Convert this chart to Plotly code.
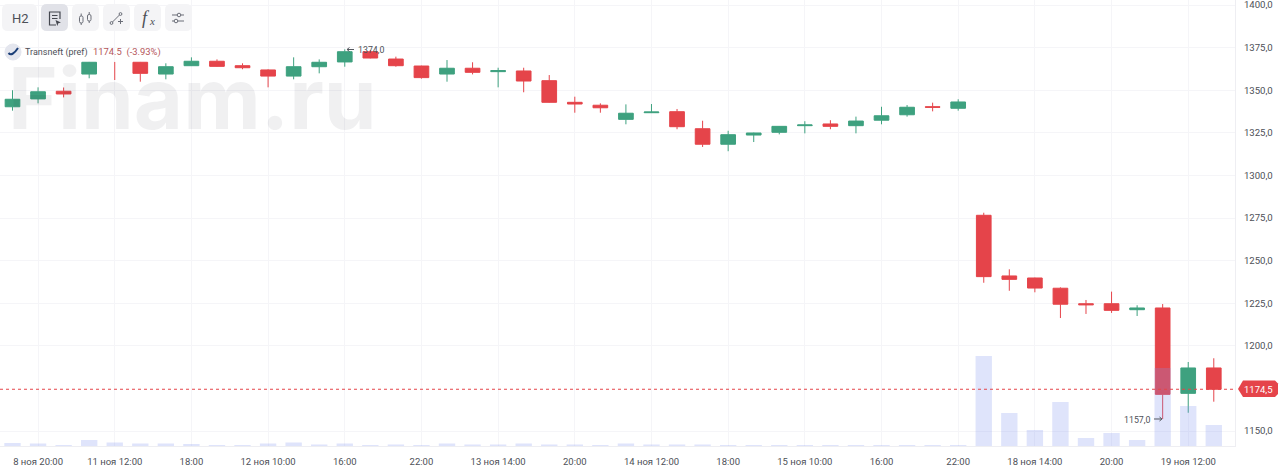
import plotly.graph_objects as go

# ---- data ----
opens = [1340.3,1344.9,1349.4,1359.5,1366.4,1366.4,1359.5,1364.4,1367.0,1364.4,1361.9,1358.3,1363.8,1366.6,1372.6,1368.3,
         1364.2,1359.5,1362.9,1360.9,1361.3,1355.6,1342.9,1341.2,1332.9,1336.8,1337.4,1327.4,1318.3,1323.7,1325.3,1329.2,
         1330.2,1329.2,1332.4,1335.6,1340.3,1339.4,1276.6,1241.0,1239.8,1233.8,1224.7,1224.7,1221.2,1222.2,1172.1,1187.0]
highs = [1350.0,1351.7,1351.6,1366.6,1366.6,1366.6,1365.8,1369.3,1368.1,1365.8,1362.3,1369.3,1368.1,1374.0,1373.6,1369.7,
         1364.4,1367.7,1366.4,1363.2,1363.2,1358.9,1346.2,1342.3,1341.7,1341.9,1339.0,1332.1,1326.2,1325.1,1329.0,1331.8,
         1332.4,1334.5,1340.3,1341.3,1342.7,1344.7,1278.1,1244.9,1240.0,1234.3,1226.9,1231.8,1223.8,1224.5,1190.5,1192.7]
lows = [1338.0,1342.3,1345.8,1357.0,1356.0,1355.0,1356.4,1364.2,1363.8,1362.3,1351.7,1356.4,1359.9,1363.8,1368.7,1363.8,
        1356.8,1355.0,1359.3,1351.7,1348.8,1342.7,1336.8,1336.8,1330.0,1336.6,1327.1,1316.7,1314.2,1319.6,1324.1,1324.7,
        1327.1,1324.7,1330.0,1334.5,1337.6,1338.0,1237.0,1232.3,1231.4,1216.3,1218.7,1219.3,1217.5,1157.0,1160.7,1167.2]
closes = [1344.7,1349.1,1347.8,1366.4,1366.2,1359.9,1363.8,1367.0,1364.0,1363.2,1358.3,1363.8,1366.4,1372.6,1368.9,1364.4,
          1357.4,1362.9,1360.5,1361.5,1355.4,1342.9,1341.9,1339.7,1336.5,1337.2,1328.6,1318.3,1323.9,1324.9,1328.8,1329.6,
          1328.8,1331.9,1335.0,1340.0,1340.0,1343.1,1240.6,1239.0,1233.9,1224.4,1224.1,1220.8,1222.2,1171.5,1187.0,1174.5]
volumes = [3,2.5,1,6,3.5,2.5,2.5,2,1,1,2.5,3.5,1.5,2.5,1,1.5,1,2.5,1.5,1.5,2.5,1.5,1.5,1,
           2.5,1.5,1.5,1.5,1,1,1,1,1,1,1,1,1,1,90,33,16,44,8,13,6,78,40,21]
price_ticks = [1400,1375,1350,1325,1300,1275,1250,1225,1200,1150]
price_labels = ["1400,0","1375,0","1350,0","1325,0","1300,0","1275,0","1250,0","1225,0","1200,0","1150,0"]
time_ticks = [1,4,7,10,13,16,19,22,25,28,31,34,37,40,43,46]
time_labels = ["8 ноя 20:00","11 ноя 12:00","18:00","12 ноя 10:00","16:00","22:00","13 ноя 14:00","20:00",
               "14 ноя 12:00","18:00","15 ноя 10:00","16:00","22:00","18 ноя 14:00","20:00","19 ноя 12:00"]
last_price = 1174.5
wick_only = 4   # this candle shows a wick with no visible body

RED, GREEN = "#e5444a", "#3ea17f"
GRID = "#f5f5f8"
FONT = "Roboto, sans-serif"
TXT = "#4d5057"
PW, PH = 1235.0, 446.0

def X(p): return p / PW
def Y(p): return 1 - p / PH

def poly(points, close=False):
    s = "M " + " L ".join(f"{X(a):.5f} {Y(b):.5f}" for a, b in points)
    return s + (" Z" if close else "")

def rrect(x0, y0, x1, y1, r):
    return (f"M {X(x0+r):.5f} {Y(y0):.5f} L {X(x1-r):.5f} {Y(y0):.5f} Q {X(x1):.5f} {Y(y0):.5f} {X(x1):.5f} {Y(y0+r):.5f} "
            f"L {X(x1):.5f} {Y(y1-r):.5f} Q {X(x1):.5f} {Y(y1):.5f} {X(x1-r):.5f} {Y(y1):.5f} "
            f"L {X(x0+r):.5f} {Y(y1):.5f} Q {X(x0):.5f} {Y(y1):.5f} {X(x0):.5f} {Y(y1-r):.5f} "
            f"L {X(x0):.5f} {Y(y0+r):.5f} Q {X(x0):.5f} {Y(y0):.5f} {X(x0+r):.5f} {Y(y0):.5f} Z")

def fill(path, color):
    return dict(type="path", xref="paper", yref="paper", path=path, fillcolor=color, line=dict(width=0))

def stroke(path, color="#6b6e78", w=1):
    return dict(type="path", xref="paper", yref="paper", path=path, line=dict(color=color, width=w))

def circle(cx, cy, r, color="rgba(0,0,0,0)", line="#6b6e78"):
    return dict(type="circle", xref="paper", yref="paper", x0=X(cx-r), x1=X(cx+r), y0=Y(cy+r), y1=Y(cy-r),
                fillcolor=color, line=dict(color=line, width=1))

def label(px, py, text, size=9.5, color=TXT, anchor="left", family=FONT):
    return dict(xref="paper", yref="paper", x=X(px), y=Y(py), text=text, showarrow=False, xanchor=anchor,
                yanchor="middle", font=dict(family=family, size=size, color=color))

idx = list(range(len(opens)))
body = [i != wick_only for i in idx]
fig = go.Figure()
fig.add_trace(go.Candlestick(
    x=idx,
    open=[v if b else None for v, b in zip(opens, body)],
    high=[v if b else None for v, b in zip(highs, body)],
    low=[v if b else None for v, b in zip(lows, body)],
    close=[v if b else None for v, b in zip(closes, body)],
    showlegend=False, whiskerwidth=0,
    increasing=dict(line=dict(color=GREEN, width=1), fillcolor=GREEN),
    decreasing=dict(line=dict(color=RED, width=1), fillcolor=RED)))
fig.add_trace(go.Scatter(x=[idx[wick_only], idx[wick_only]], y=[lows[wick_only], highs[wick_only]], mode="lines",
                         line=dict(color=RED, width=1), showlegend=False))
fig.add_trace(go.Bar(x=idx, y=volumes, yaxis="y2", width=0.64, marker=dict(color="rgba(127,147,239,0.25)", line=dict(width=0)),
                     showlegend=False))

ARROW = "#55585f"
shapes = [
    dict(type="line", xref="paper", yref="y", x0=0, x1=1, y0=last_price, y1=last_price,
         line=dict(color=RED, width=1, dash="dot")),
    fill(poly([(1243, 380.5), (1275, 380.5), (1278, 383.5), (1278, 394), (1275, 397), (1243, 397), (1238, 389)], True), RED),
    # extreme-price arrows
    stroke(poly([(347, 49.5), (354, 49.5)]), ARROW), stroke(poly([(349.5, 47.5), (347, 49.5), (349.5, 51.5)]), ARROW),
    stroke(poly([(1154, 419), (1161.5, 419)]), ARROW), stroke(poly([(1159.5, 417), (1162, 419), (1159.5, 421)]), ARROW),
]
for (a, b), c in zip([(2, 37), (41, 68), (72, 99), (103, 130), (134, 161), (165, 192)],
                     ["#f4f4f6", "#e1e2e8", "#f4f4f6", "#f4f4f6", "#f4f4f6", "#f4f4f6"]):
    shapes.append(fill(rrect(a, 4, b, 31, 6), c))
shapes += [
    # report icon
    stroke(poly([(56, 25), (49.5, 25), (49.5, 12), (60, 12), (60, 19)]), "#44474f", 1.2),
    stroke(poly([(52, 15.5), (57.5, 15.5)]), "#44474f", 1), stroke(poly([(52, 18.5), (57.5, 18.5)]), "#44474f", 1),
    fill(poly([(55.5, 20), (61, 22.5), (58.3, 23.3), (57.3, 26)], True), "#44474f"),
    # candle icon
    stroke(rrect(79.5, 16, 83, 23, 1.5)), stroke(rrect(87.5, 14.5, 91, 21, 1.5)),
    stroke(poly([(81.2, 13.5), (81.2, 16)])), stroke(poly([(81.2, 23), (81.2, 25)])),
    stroke(poly([(89.2, 12), (89.2, 14.5)])), stroke(poly([(89.2, 21), (89.2, 23)])),
    # draw icon
    stroke(poly([(112.5, 22), (119.5, 15)])), circle(111.5, 23, 1.4), circle(120.5, 14, 1.4),
    stroke(poly([(118, 21.5), (123, 21.5)])), stroke(poly([(120.5, 19), (120.5, 24)])),
    # settings icon
    stroke(poly([(172, 15), (184, 15)])), stroke(poly([(172, 21), (184, 21)])),
    circle(179, 15, 1.8, "#f4f4f6"), circle(176, 21, 1.8, "#f4f4f6"),
    # logo
    circle(13, 52, 8, "#e4e6ee", "#e4e6ee"),
    stroke("M %.5f %.5f Q %.5f %.5f %.5f %.5f" % (X(8.5), Y(53), X(12), Y(57), X(18), Y(48)), "#1c3f78", 2),
]

annotations = [
    label(6, 99, "<b>Finam.ru</b>", size=85, color="rgba(30,30,50,0.065)", family="Inter, sans-serif"),
    label(20, 18, "H2", size=13, anchor="center"),
    label(145.5, 17.5, "<i>f</i>", size=18, anchor="center", family="Liberation Serif"),
    label(151.5, 21, "<i>x</i>", size=11, anchor="center", family="Liberation Serif"),
    label(22.5, 52.5, "Transneft (pref)", size=9),
    label(91, 52.5, "1174.5  (-3.93%)", size=9.4, color="#b5565a"),
    label(356, 50.5, "1374,0", size=8.8),
    label(1152.5, 420, "1157,0", size=8.8, anchor="right"),
    label(1258, 389, "1174,5", size=9.5, color="#ffffff", anchor="center"),
]

fig.update_layout(
    width=1280, height=471, margin=dict(l=0, r=45, t=0, b=25, autoexpand=False),
    paper_bgcolor="white", plot_bgcolor="white", showlegend=False, dragmode=False, boxgap=0.18,
    font=dict(family=FONT, size=9.6, color=TXT),
    shapes=shapes, annotations=annotations,
    xaxis=dict(range=[-0.489, 47.83], tickmode="array", tickvals=time_ticks, ticktext=time_labels,
               showgrid=True, gridcolor=GRID, gridwidth=1, zeroline=False, showline=True, linecolor="#eeeef2",
               ticks="outside", ticklen=7, tickcolor="rgba(0,0,0,0)", rangeslider=dict(visible=False),
               tickangle=0, tickfont=dict(size=9.5, color=TXT)),
    yaxis=dict(range=[1141.2, 1402.95], side="right", tickmode="array", tickvals=price_ticks, ticktext=price_labels,
               showgrid=True, gridcolor=GRID, gridwidth=1, zeroline=False, showline=True, linecolor="#eeeef2",
               ticks="outside", ticklen=6, tickcolor="rgba(0,0,0,0)", tickfont=dict(size=9.6, color=TXT),
               ticklabeloverflow="allow"),
    yaxis2=dict(range=[0, 446], overlaying="y", side="left", showgrid=False, zeroline=False, showticklabels=False,
                showline=False, ticks=""),
)

fig.write_html("out.html", config={"displayModeBar": False},
               post_script="document.body.style.margin='0';")
